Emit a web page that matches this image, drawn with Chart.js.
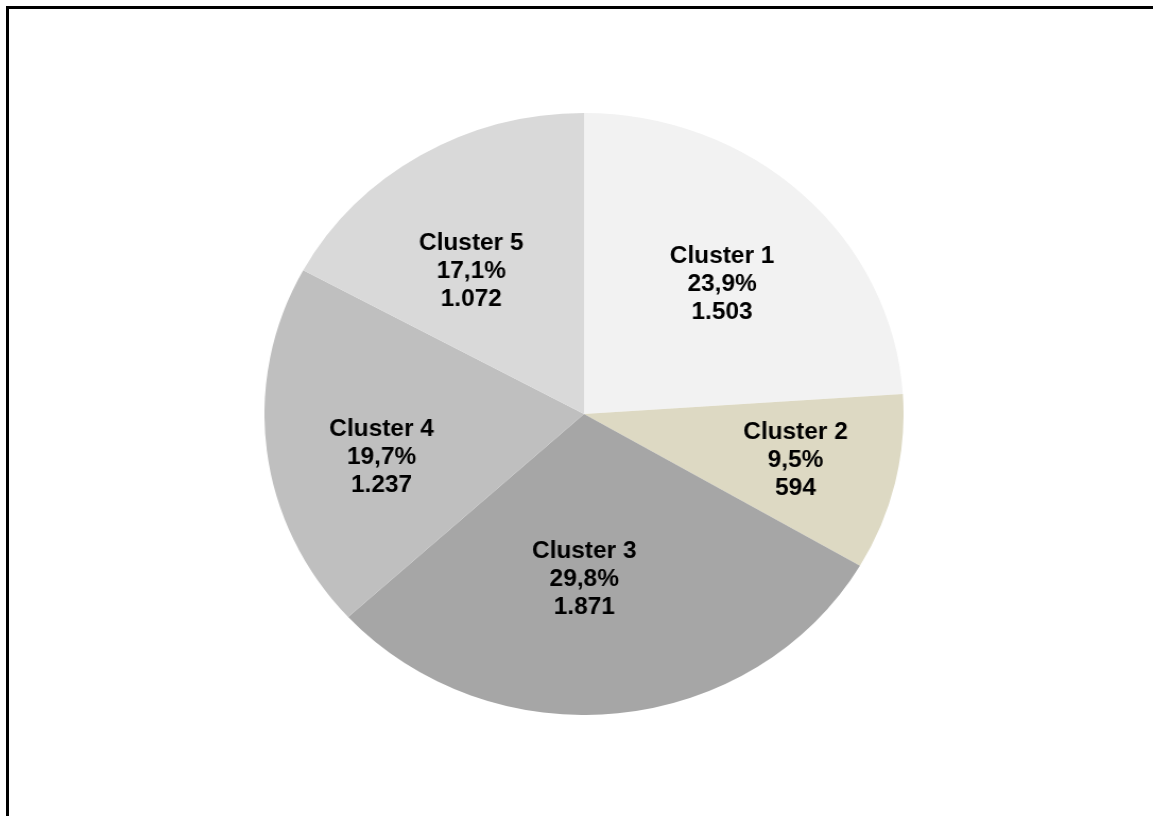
<!DOCTYPE html>
<html lang="de">
<head>
  <meta charset="UTF-8" />
  <title>Cluster</title>
  <style>
    body {
      margin: 0;
      padding: 0;
      background: #ffffff;
      width: 1153px;
      height: 816px;
      overflow: hidden;
      position: relative;
    }
    .frame {
      position: absolute;
      left: 6px;
      top: 6px;
      width: 1200px;
      height: 900px;
      border-left: 3px solid #000;
      border-top: 3px solid #000;
    }
    #pieChart {
      position: absolute;
      left: 283px;
      top: 113px;
      transform: scaleX(1.0616);
      transform-origin: 50% 50%;
    }
  </style>
  <script src="https://cdn.jsdelivr.net/npm/chart.js"></script>
</head>
<body>
  <div class="frame"></div>
  <canvas id="pieChart" width="602" height="602" style="width:602px;height:602px;"></canvas>

  <script>
    const categories = ['Cluster 1', 'Cluster 2', 'Cluster 3', 'Cluster 4', 'Cluster 5'];
    const counts = [1503, 594, 1871, 1237, 1072];
    const shares = ['23,9%', '9,5%', '29,8%', '19,7%', '17,1%'];
    const countLabels = ['1.503', '594', '1.871', '1.237', '1.072'];
    const sliceColors = ['#f2f2f2', '#ddd9c3', '#a6a6a6', '#bfbfbf', '#d9d9d9'];
    // label placement: share of radius, and turn (degrees) off the slice middle
    const labelRadius = [0.61, 0.68, 0.55, 0.65, 0.59];
    const labelShift = [2, 0, 6, -6, -6];

    const sliceLabels = {
      id: 'sliceLabels',
      afterDatasetsDraw(chart) {
        const ctx = chart.ctx;
        const arcs = chart.getDatasetMeta(0).data;
        ctx.save();
        ctx.font = 'bold 23px "Liberation Sans", Arial, sans-serif';
        ctx.fillStyle = '#000';
        ctx.textAlign = 'center';
        ctx.textBaseline = 'middle';
        arcs.forEach((arc, i) => {
          const p = arc.getProps(['x', 'y', 'startAngle', 'endAngle', 'outerRadius'], true);
          const mid = (p.startAngle + p.endAngle) / 2 + labelShift[i] * Math.PI / 180;
          const r = p.outerRadius * labelRadius[i];
          const cx = p.x + Math.cos(mid) * r;
          const cy = p.y + Math.sin(mid) * r;
          ctx.fillText(categories[i], cx, cy - 28);
          ctx.fillText(shares[i], cx, cy);
          ctx.fillText(countLabels[i], cx, cy + 28);
        });
        ctx.restore();
      }
    };

    new Chart(document.getElementById('pieChart').getContext('2d'), {
      type: 'pie',
      data: {
        labels: categories,
        datasets: [{
          data: counts,
          backgroundColor: sliceColors,
          borderWidth: 0
        }]
      },
      options: {
        responsive: false,
        animation: false,
        layout: { padding: 0 },
        plugins: {
          legend: { display: false },
          tooltip: { enabled: false }
        }
      },
      plugins: [sliceLabels]
    });
  </script>
</body>
</html>
